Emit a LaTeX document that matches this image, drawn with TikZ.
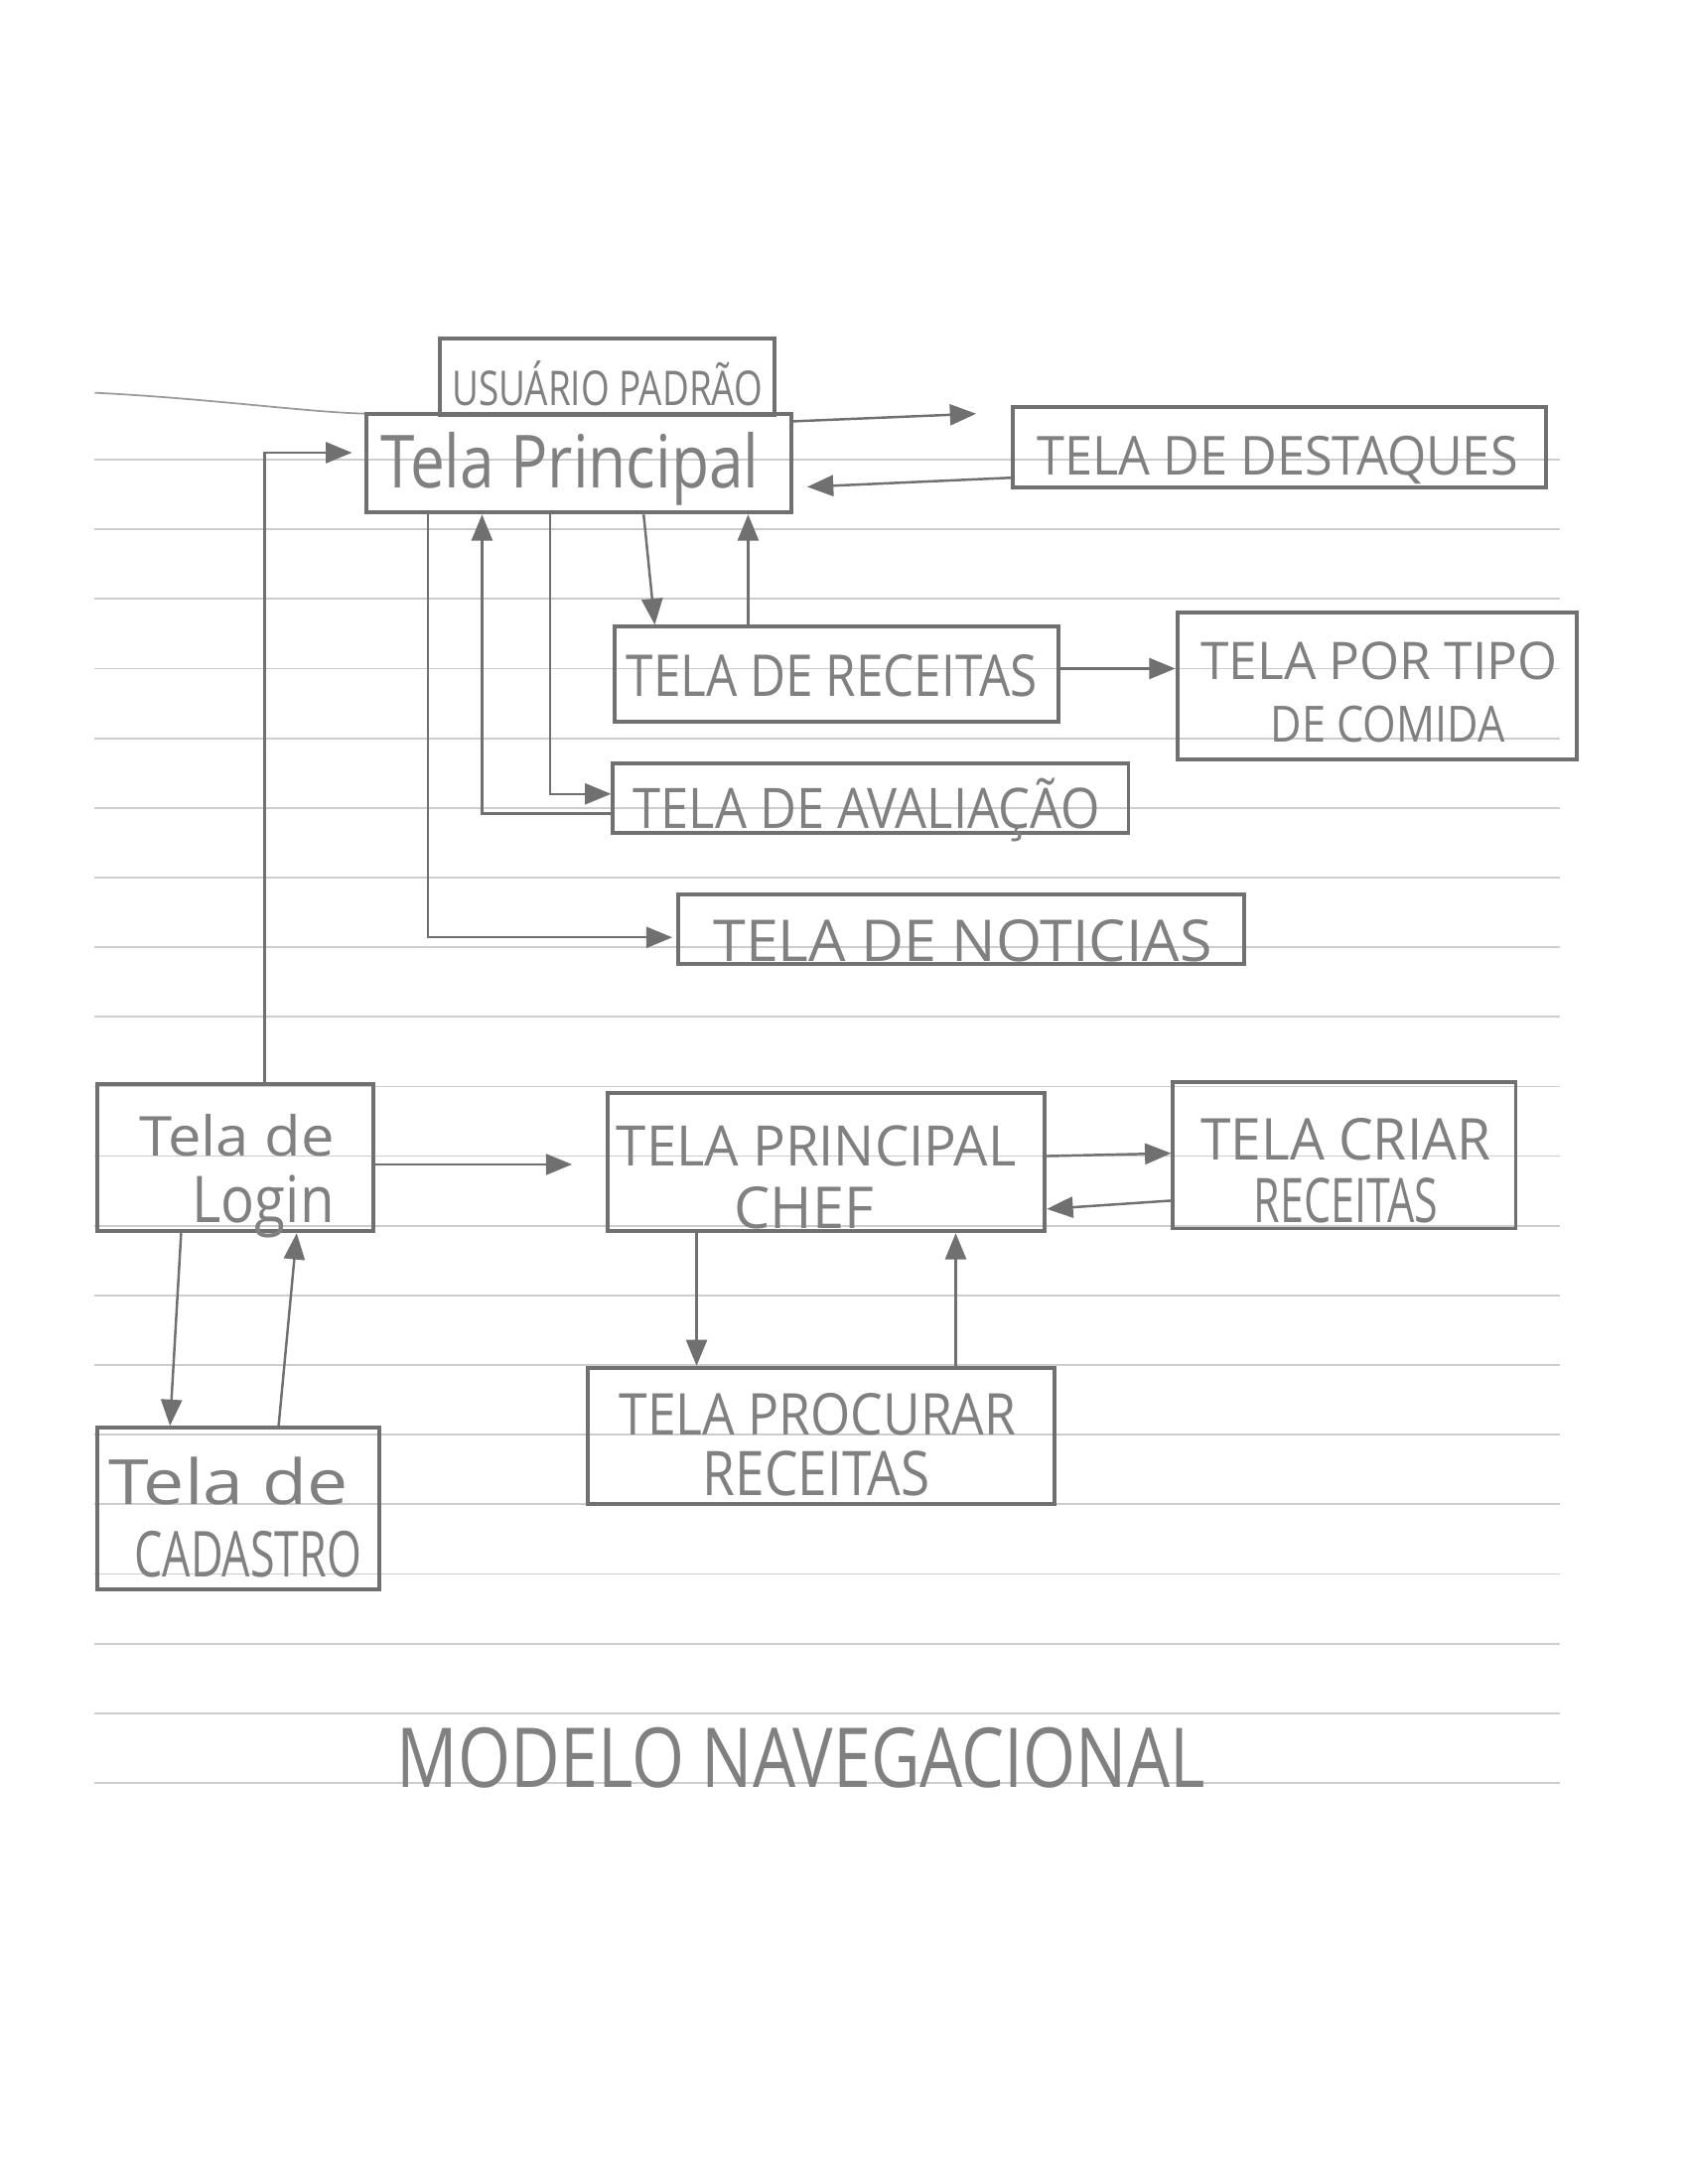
\documentclass[tikz,border=0pt]{standalone}
\usepackage{fontspec}
\setmainfont{Open Sans}
\usetikzlibrary{arrows.meta}
\newdimen\pxu \pxu=0.014026cm
\definecolor{pencil}{RGB}{112,112,112}
\definecolor{ink}{RGB}{128,128,128}
\definecolor{ruled}{RGB}{205,205,205}
\tikzset{
 box/.style={draw=pencil, line width=1.1pt, inner sep=0pt},
 txt/.style={inner sep=0pt, text=ink, anchor=base},
 arr/.style={draw=pencil, line width=0.7pt, -{Triangle[length=7.5pt,width=6pt]}},
 ruleline/.style={draw=ruled, line width=0.5pt}
}
\newcommand\fitbox[3]{\resizebox{#1\pxu}{#2\pxu}{#3}}
\begin{document}
\begin{tikzpicture}[x=0.014026cm,y=-0.014026cm]
\useasboundingbox[fill=white] (0,0) rectangle (1212,1568);
% notebook lines
\foreach \k in {0,...,19} \draw[ruleline] (68,330+50*\k) -- (1120,330+50*\k);
\draw[ruleline, draw=pencil!70] (68,282) .. controls (150,286) and (220,296) .. (263,297);
% boxes
\node[box, minimum width=240\pxu, minimum height=55\pxu] (usr) at (436,270.5) {};
\node[box, minimum width=305\pxu, minimum height=71\pxu] (princ) at (415.5,332.5) {};
\node[box, minimum width=383\pxu, minimum height=58\pxu] (dest) at (918.5,321) {};
\node[box, minimum width=319\pxu, minimum height=68\pxu] (rec) at (600.5,484) {};
\node[box, minimum width=287\pxu, minimum height=105\pxu] (tipo) at (988.5,492.5) {};
\node[box, minimum width=370\pxu, minimum height=50\pxu] (aval) at (625,573) {};
\node[box, minimum width=406\pxu, minimum height=50\pxu] (noti) at (690,667) {};
\node[box, minimum width=198\pxu, minimum height=106\pxu] (login) at (169,831) {};
\node[box, minimum width=314\pxu, minimum height=99\pxu] (chef) at (593,834.5) {};
\node[box, minimum width=246\pxu, minimum height=105\pxu] (criar) at (965,829.5) {};
\node[box, minimum width=335\pxu, minimum height=98\pxu] (proc) at (589.5,1031) {};
\node[box, minimum width=202\pxu, minimum height=116\pxu] (cad) at (171,1083) {};
% texts
\node[txt] (usr-t) at (436,291) {\fitbox{223}{32}{USUÁRIO PADRÃO}};
\node[txt] (princ-t) at (409,350) {\fitbox{272}{40}{Tela Principal}};
\node[txt] (dest-t) at (917,341) {\fitbox{345}{28}{TELA DE DESTAQUES}};
\node[txt] (rec-t) at (597,500) {\fitbox{295}{30}{TELA DE RECEITAS}};
\node[txt] (tipo-t1) at (990,488) {\fitbox{256}{27}{TELA POR TIPO}};
\node[txt] (tipo-t2) at (996,533) {\fitbox{168}{26}{DE COMIDA}};
\node[txt] (aval-t) at (622,595) {\fitbox{335}{36}{TELA DE AVALIAÇÃO}};
\node[txt] (noti-t) at (691,690) {\fitbox{358}{30}{TELA DE NOTICIAS}};
\node[txt] (login-t1) at (170,830) {\fitbox{140}{30}{Tela de}};
\node[txt] (login-t2) at (189,878) {\fitbox{102}{34}{Login}};
\node[txt] (chef-t1) at (586,837) {\fitbox{287}{29}{TELA PRINCIPAL}};
\node[txt] (chef-t2) at (577,882) {\fitbox{100}{30}{CHEF}};
\node[txt] (criar-t1) at (966,833) {\fitbox{208}{30}{TELA CRIAR}};
\node[txt] (criar-t2) at (966,878) {\fitbox{132}{32}{RECEITAS}};
\node[txt] (proc-t1) at (587,1030) {\fitbox{285}{30}{TELA PROCURAR}};
\node[txt] (proc-t2) at (586,1074) {\fitbox{163}{32}{RECEITAS}};
\node[txt] (cad-t1) at (164,1080) {\fitbox{172}{34}{Tela de}};
\node[txt] (cad-t2) at (178,1132) {\fitbox{163}{33}{CADASTRO}};
\node[txt] (title) at (575,1283) {\fitbox{580}{43}{MODELO NAVEGACIONAL}};
% connectors
\draw[arr, shorten >=9\pxu] ([xshift=21\pxu]login.north) |- ([yshift=7.5\pxu]princ.west);
\draw[arr, shorten >=25\pxu] ([yshift=30\pxu]princ.east) -- ([yshift=25\pxu]dest.west);
\draw[arr, shorten >=10\pxu] ([yshift=-22\pxu]dest.west) -- ([yshift=-17.5\pxu]princ.east);
\draw[arr] ([xshift=46.5\pxu]princ.south) -- ([xshift=-130.5\pxu]rec.north);
\draw[arr] ([xshift=-63.5\pxu]rec.north) -- ([xshift=121.5\pxu]princ.south);
\draw[arr] ([yshift=4\pxu]rec.east) -- ([yshift=12.5\pxu]tipo.west);
\draw[arr] ([xshift=-20.5\pxu]princ.south) |- ([yshift=3\pxu]aval.west);
\draw[arr] ([yshift=-11\pxu]aval.west) -| ([xshift=-69.5\pxu]princ.south);
\draw[arr, shorten >=3\pxu] ([xshift=-108.5\pxu]princ.south) |- ([yshift=-6\pxu]noti.west);
\draw[arr, shorten >=24\pxu] ([yshift=-5\pxu]login.east) -- ([yshift=-1.5\pxu]chef.west);
\draw[arr] ([yshift=4.5\pxu]chef.east) -- ([yshift=1.5\pxu]criar.west);
\draw[arr] ([yshift=-32.5\pxu]criar.west) -- ([yshift=-33.5\pxu]chef.east);
\draw[arr] ([xshift=-93\pxu]chef.south) -- ([xshift=-89.5\pxu]proc.north);
\draw[arr] ([xshift=96.5\pxu]proc.north) -- ([xshift=93\pxu]chef.south);
\draw[arr] ([xshift=-39\pxu]login.south) -- ([xshift=-49\pxu]cad.north);
\draw[arr] ([xshift=29\pxu]cad.north) -- ([xshift=44\pxu]login.south);
\end{tikzpicture}
\end{document}
